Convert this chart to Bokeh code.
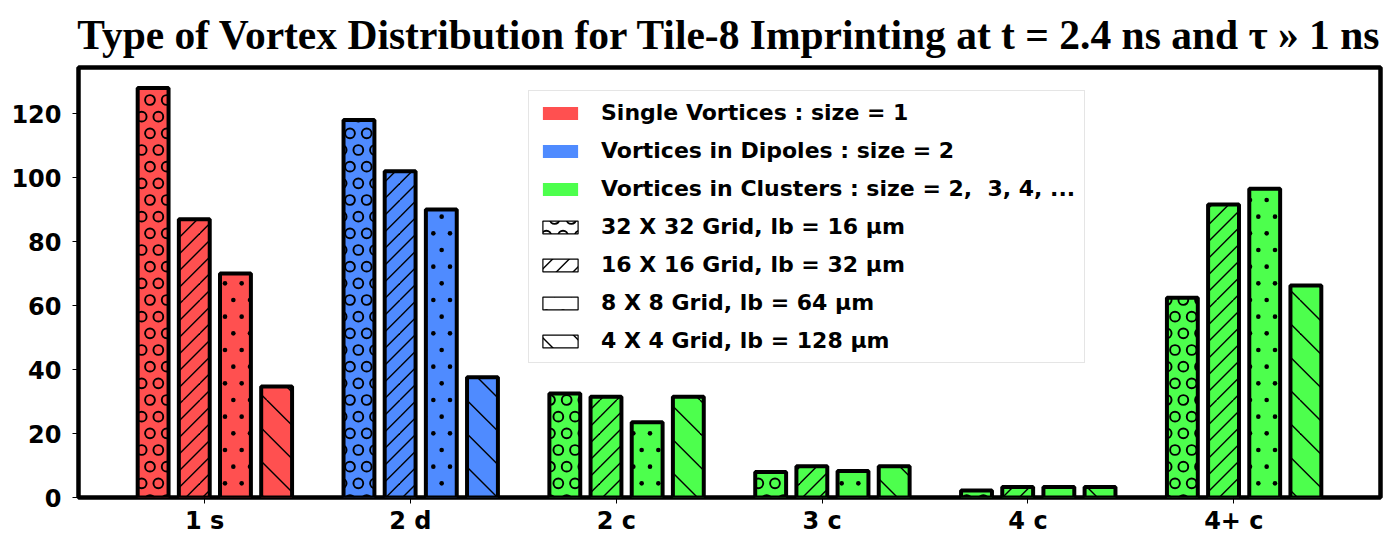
import base64
from bokeh.plotting import figure
from bokeh.models import (ColumnDataSource, FixedTicker, Legend, LegendItem, Range1d,
                          ImageURLTexture)
from bokeh.core.properties import value
from bokeh.embed import file_html
from bokeh.resources import INLINE

# ---------------- data ----------------
categories = ["1 s", "2 d", "2 c", "3 c", "4 c", "4+ c"]
grid_32 = [128, 118, 32.5, 8.0, 2.2, 62.4]
grid_16 = [87, 102, 31.5, 9.8, 3.3, 91.6]
grid_8 = [70, 90, 23.5, 8.3, 3.3, 96.5]
grid_4 = [34.7, 37.6, 31.5, 9.8, 3.3, 66.3]
series = [grid_32, grid_16, grid_8, grid_4]
grid_labels = [
    "32 X 32 Grid, lb = 16 µm",
    "16 X 16 Grid, lb = 32 µm",
    "8 X 8 Grid, lb = 64 µm",
    "4 X 4 Grid, lb = 128 µm",
]
type_labels = [
    "Single Vortices : size = 1",
    "Vortices in Dipoles : size = 2",
    "Vortices in Clusters : size = 2,\u00a0 3, 4, ...",
]
type_colors = ["#ff5050", "#4f8bff", "#4dff4d"]
category_type = [0, 1, 2, 2, 2, 2]
title_text = "Type of Vortex Distribution for Tile-8 Imprinting at t = 2.4 ns and \u03c4 \u00bb 1 ns"


# ---------------- hatch textures (matplotlib-like) ----------------
def svg_url(body, w, h):
    svg = ('<svg xmlns="http://www.w3.org/2000/svg" width="%d" height="%d" '
           'viewBox="0 0 %d %d">%s</svg>' % (w, h, w, h, body))
    return "data:image/svg+xml;base64," + base64.b64encode(svg.encode()).decode()


def staggered(shape_fn):
    s = 50.0 / 3.0
    parts = []
    for r in range(7):
        y = r * s
        xs = [c * s for c in range(4)] if r % 2 == 0 else [s / 2 + c * s for c in range(3)]
        for x in xs:
            parts.append(shape_fn(x, y))
    return svg_url("".join(parts), 50, 100)


def diag_url(step, forward, width):
    parts = []
    n = int(round(100 / step))
    for k in range(-n, 2 * n + 1):
        c = k * step
        x2 = c - 100 if forward else c + 100
        parts.append('<line x1="%.2f" y1="0" x2="%.2f" y2="100" stroke="black" '
                     'stroke-width="%s"/>' % (c, x2, width))
    return svg_url("".join(parts), 100, 100)


texture_urls = [
    staggered(lambda x, y: '<circle cx="%.2f" cy="%.2f" r="4.9" fill="none" '
                           'stroke="black" stroke-width="1.9"/>' % (x, y)),
    diag_url(100 / 6.0, True, 1.4),
    staggered(lambda x, y: '<circle cx="%.2f" cy="%.2f" r="2.3" fill="black"/>' % (x, y)),
    diag_url(100 / 3.0, False, 1.4),
]


def hatch_kw(j):
    name = "tex%d" % j
    return dict(hatch_pattern=value(name), hatch_color="black",
                hatch_extra={name: ImageURLTexture(url=texture_urls[j], repetition="repeat")})


offsets = [-0.25, -0.05, 0.15, 0.35]
bar_width = 0.15

p = figure(
    width=1392, height=546,
    output_backend="svg", toolbar_location=None,
    x_range=Range1d(-0.6125, 5.7125), y_range=Range1d(0, 134.4),
    min_border_left=78, min_border_right=12, min_border_top=67, min_border_bottom=49,
    title=title_text,
)
p.title.text_font = "Liberation Serif"
p.title.text_font_style = "bold"
p.title.text_font_size = "41.5px"
p.title.align = "center"
p.title.text_color = "black"
p.title.standoff = 19

p.xgrid.visible = False
p.ygrid.visible = False
p.outline_line_color = "black"
p.outline_line_width = 4.5
p.outline_line_alpha = 1.0
p.background_fill_color = "white"
p.border_fill_color = "white"

bar_colors = [type_colors[t] for t in category_type]
for j, vals in enumerate(series):
    src = ColumnDataSource(dict(
        x=[i + offsets[j] for i in range(len(categories))],
        top=vals,
        color=bar_colors,
    ))
    p.vbar(x="x", top="top", width=bar_width, bottom=0, source=src,
           fill_color="color", line_color="black", line_width=4, **hatch_kw(j))

# legend proxies (not drawn in the plot area: NaN data)
nan = float("nan")
legend_items = []
for lbl, col in zip(type_labels, type_colors):
    r = p.vbar(x=[nan], top=[nan], width=bar_width, fill_color=col, line_color=None)
    legend_items.append(LegendItem(label=lbl, renderers=[r]))
for j, lbl in enumerate(grid_labels):
    r = p.vbar(x=[nan], top=[nan], width=bar_width, fill_color="white", line_color="black",
               line_width=1.2, **hatch_kw(j))
    legend_items.append(LegendItem(label=lbl, renderers=[r]))

legend = Legend(
    items=legend_items, location=(450, 134),
    glyph_width=44, glyph_height=16, label_standoff=19,
    label_text_font="DejaVu Sans", label_text_font_style="bold",
    label_text_font_size="22px", label_height=22, label_text_color="black",
    spacing=13, padding=9, margin=0,
    border_line_color="#cccccc", border_line_width=1.2,
    background_fill_color="white", background_fill_alpha=0.85,
)
p.add_layout(legend, "center")

# axes
p.xaxis.ticker = FixedTicker(ticks=list(range(len(categories))))
p.xaxis.major_label_overrides = {i: c for i, c in enumerate(categories)}
p.yaxis.ticker = FixedTicker(ticks=[0, 20, 40, 60, 80, 100, 120])
for ax in (p.xaxis, p.yaxis):
    ax.axis_line_color = None
    ax.major_tick_out = 6
    ax.major_tick_in = 0
    ax.major_tick_line_width = 1
    ax.major_tick_line_color = "black"
    ax.minor_tick_line_color = None
    ax.major_label_text_font = "DejaVu Sans"
    ax.major_label_text_font_style = "bold"
    ax.major_label_text_font_size = "24px"
    ax.major_label_text_color = "black"
p.xaxis.major_label_standoff = 3
p.yaxis.major_label_standoff = 11

open("out.html", "w").write(file_html(p, INLINE))
